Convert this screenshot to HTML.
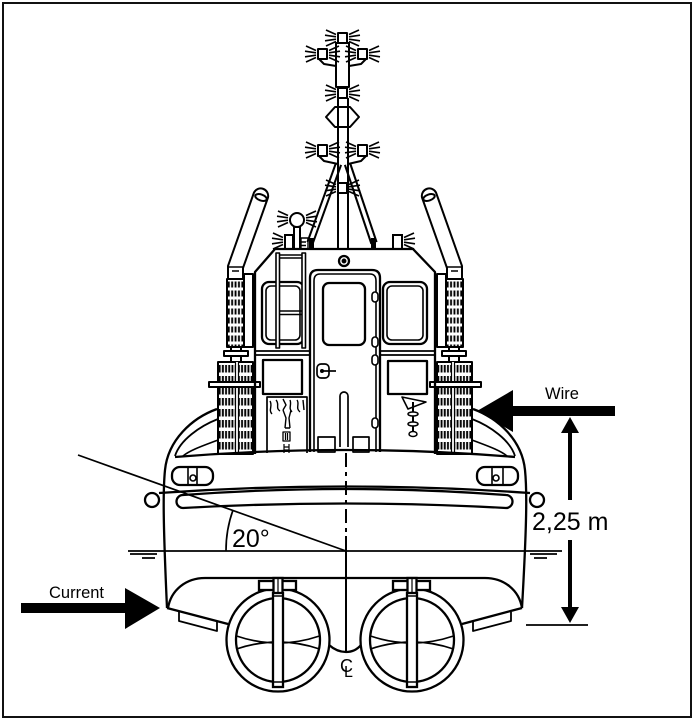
<!DOCTYPE html>
<html><head><meta charset="utf-8"><style>
html,body{margin:0;padding:0;background:#fff;}
svg{display:block;}
text{font-family:"Liberation Sans",sans-serif;fill:#000;}
</style></head><body>
<svg width="694" height="720" viewBox="0 0 694 720" xmlns="http://www.w3.org/2000/svg">
<defs>
<pattern id="gs" patternUnits="userSpaceOnUse" x="227" y="280" width="3.4" height="9"><rect x="0.8" y="1.5" width="1.9" height="6" fill="#000"/></pattern>
<pattern id="gb" patternUnits="userSpaceOnUse" x="218" y="363" width="3.2" height="11"><rect x="0.7" y="2" width="1.9" height="7.5" fill="#000"/></pattern>
<g id="fl" stroke="#000" stroke-width="1.6" fill="none"><path d="M0,-3.5L-10,-8M0,-1.2L-11,-2.8M0,1.2L-11,2.8M0,3.5L-10,8"/></g>
<g id="fr" stroke="#000" stroke-width="1.6" fill="none"><path d="M0,-3.5L10,-8M0,-1.2L11,-2.8M0,1.2L11,2.8M0,3.5L10,8"/></g>
<g id="stack" fill="none" stroke="#000" stroke-width="2" stroke-linejoin="round">
 <path d="M228,278 L228,266 L254,192.5 A7.5,7.5 0 0 1 268,197.5 L243,268 L243,278" fill="#fff"/>
 <ellipse cx="261" cy="197.5" rx="6" ry="3" transform="rotate(19.6 261 197.5)"/>
 <path d="M229,267 L243,267 M232,271 L239,271" stroke-width="1.4"/>
 <rect x="244" y="274" width="9" height="73" fill="#fff"/>
 <rect x="227" y="279" width="17" height="68" fill="url(#gs)"/>
 <rect x="231" y="347" width="10" height="4" fill="#fff"/>
 <rect x="224" y="351" width="24" height="5" fill="#fff"/>
 <rect x="231" y="356" width="10" height="6" fill="#fff"/>
 <rect x="218" y="362" width="35" height="92" fill="url(#gb)"/>
 <rect x="236" y="362" width="2" height="92" fill="#fff" stroke="none"/>
 <path d="M235.5,362 V454 M238.5,362 V454" stroke-width="1.2"/>
 <rect x="209" y="382" width="51" height="5" fill="#fff"/>
</g>
<g id="thr" fill="none" stroke="#000" stroke-width="2.3">
 <circle cx="0" cy="0" r="51.5" fill="#fff"/>
 <circle cx="0" cy="0" r="42"/>
 <path d="M-41.5,-4 Q0,10 41.5,-4 M-41.5,9 Q0,-5 41.5,9" stroke-width="1.7"/>
 <rect x="-19" y="-59" width="37" height="9" fill="#fff"/>
 <rect x="-4.5" y="-62" width="9" height="16" fill="#fff"/>
 <path d="M0,-62 V-47" stroke-width="1.2"/>
 <rect x="-5" y="-47" width="10" height="94" fill="#fff"/>
 <path d="M-6,-44 H6 M-5,42 H5" stroke-width="1.4"/>
</g>
</defs>

<rect x="3" y="3" width="688" height="714" fill="none" stroke="#111" stroke-width="2"/>

<!-- stacks -->
<use href="#stack"/>
<use href="#stack" transform="translate(690,0) scale(-1,1)"/>

<!-- mast -->
<g fill="none" stroke="#000" stroke-width="2" stroke-linejoin="round">
 <line x1="338.5" y1="164" x2="310" y2="243" stroke-width="7.5"/>
 <line x1="338.5" y1="164" x2="310" y2="243" stroke="#fff" stroke-width="3.4"/>
 <line x1="347.5" y1="164" x2="374" y2="243" stroke-width="7.5"/>
 <line x1="347.5" y1="164" x2="374" y2="243" stroke="#fff" stroke-width="3.4"/>
 <rect x="309" y="238" width="5" height="11" fill="#000" stroke="none"/>
 <rect x="371" y="238" width="5" height="11" fill="#000" stroke="none"/>
 <path d="M338,98 V249 M348,98 V249"/>
 <rect x="336" y="43" width="13" height="44" fill="#fff"/>
 <polygon points="326,117 335,107 350,107 359,117 350,127 335,127"/>
 <path d="M319,59 L324,64 L336,66 M366,59 L361,64 L349,66"/>
 <path d="M319,156 L324,161 L338,164 M366,156 L361,161 L348,164"/>
 <rect x="338" y="33" width="9" height="10" fill="#fff"/>
 <rect x="318" y="49" width="9" height="10" fill="#fff"/>
 <rect x="358" y="49" width="9" height="10" fill="#fff"/>
 <rect x="338" y="88" width="9" height="10" fill="#fff"/>
 <rect x="318" y="145" width="9" height="11" fill="#fff"/>
 <rect x="358" y="145" width="9" height="11" fill="#fff"/>
 <rect x="338" y="183" width="9" height="10" fill="#fff"/>
</g>
<use href="#fl" x="336" y="38"/><use href="#fr" x="349" y="38"/>
<use href="#fl" x="316" y="54"/><use href="#fr" x="329" y="54"/>
<use href="#fl" x="356" y="54"/><use href="#fr" x="369" y="54"/>
<use href="#fl" x="336" y="93"/><use href="#fr" x="349" y="93"/>
<use href="#fl" x="316" y="150"/><use href="#fr" x="329" y="150"/>
<use href="#fl" x="356" y="150"/><use href="#fr" x="369" y="150"/>
<use href="#fl" x="336" y="188"/><use href="#fr" x="349" y="188"/>

<!-- roof items -->
<g fill="none" stroke="#000" stroke-width="2">
 <circle cx="297" cy="220" r="7" fill="#fff"/>
 <rect x="294" y="227" width="6" height="22" fill="#fff"/>
 <rect x="285" y="235" width="8" height="14" fill="#fff"/>
 <path d="M301,238 H308 V249 H301 Z M301,242 H306 M301,245.5 H306" stroke-width="1.4"/>
 <rect x="393" y="235" width="9" height="14" fill="#fff"/>
</g>
<use href="#fl" x="288" y="219"/><use href="#fr" x="306" y="219"/>
<use href="#fl" x="283" y="241"/><use href="#fr" x="404" y="241"/>

<!-- wheelhouse -->
<g fill="none" stroke="#000" stroke-width="2.3" stroke-linejoin="round">
 <path d="M255,454 V272 L275,249 H413 L435,272 V454"/>
 <circle cx="344" cy="261" r="5"/>
 <circle cx="344" cy="261" r="1.3" fill="#000"/>
 <rect x="262" y="282" width="42" height="62" rx="7"/>
 <rect x="266" y="286" width="34" height="54" rx="5" stroke-width="1.6"/>
 <rect x="383" y="282" width="44" height="62" rx="7"/>
 <rect x="387" y="286" width="36" height="54" rx="5" stroke-width="1.6"/>
 <path d="M310,452 V278 Q310,270 318,270 H372 Q380,270 380,278 V452"/>
 <path d="M314,452 V281 Q314,274 320,274 H370 Q376,274 376,281 V452" stroke-width="1.6"/>
 <rect x="323" y="283" width="42" height="62" rx="6"/>
 <path d="M255,351 H310 M255,355 H310 M380,351 H435 M380,355 H435" stroke-width="1.7"/>
 <rect x="263" y="360" width="39" height="34"/>
 <rect x="388" y="361" width="39" height="33"/>
 <path d="M267,453 V397 H307 V453" stroke-width="1.7"/>
 <!-- ladder -->
 <rect x="276" y="253" width="3.5" height="95" fill="#fff" stroke-width="1.6"/>
 <rect x="302" y="253" width="3.5" height="95" fill="#fff" stroke-width="1.6"/>
 <path d="M279.5,255 H302 M279.5,258 H302 M279.5,311 H302 M279.5,314.5 H302" stroke-width="1.6"/>
 <!-- hinges -->
 <rect x="372" y="292" width="6" height="10" rx="3" fill="#fff" stroke-width="1.6"/>
 <rect x="372" y="337" width="6" height="10" rx="3" fill="#fff" stroke-width="1.6"/>
 <rect x="372" y="355" width="6" height="10" rx="3" fill="#fff" stroke-width="1.6"/>
 <rect x="372" y="418" width="6" height="10" rx="3" fill="#fff" stroke-width="1.6"/>
 <!-- handle -->
 <rect x="317" y="364" width="12" height="14" rx="4" stroke-width="1.7"/>
 <circle cx="322" cy="371" r="2" fill="#000" stroke="none"/>
 <path d="M322,371 H336" stroke-width="1.7"/>
 <path d="M340,447 V396 A4,4 0 0 1 348,396 V447" stroke-width="1.7"/>
 <rect x="318" y="437" width="17" height="15" fill="#fff" stroke-width="1.7"/>
 <rect x="353" y="437" width="16" height="15" fill="#fff" stroke-width="1.7"/>
 <!-- squiggles -->
 <path d="M270,401 C273,406 268,410 272,414 M276,400 C280,404 275,408 280,411 M283,399 L286,405 L283,410 M290,400 C292,405 288,408 292,412 M297,400 C300,404 295,408 300,412 M303,400 L304,410" stroke-width="1.4"/>
 <path d="M283,410 L286,418 L285,428 M291,410 L289,418 L290,428 M285,428 H290" stroke-width="1.4"/>
 <rect x="283" y="432" width="7" height="9" stroke-width="1.3"/>
 <path d="M285.5,433 V440 M287.5,433 V440 M284,444 V453 M289,444 V453 M284,447 H289 M284,450 H289" stroke-width="1.2"/>
 <!-- flag/pole -->
 <path d="M402,397 L426,402 L408,409 Z" stroke-width="1.6"/>
 <path d="M413,402 V437" stroke-width="2"/>
 <ellipse cx="413" cy="414" rx="5" ry="2" fill="#fff" stroke-width="1.5"/>
 <ellipse cx="413" cy="424" rx="5" ry="2" fill="#fff" stroke-width="1.5"/>
 <ellipse cx="413" cy="434" rx="4" ry="2.5" fill="#fff" stroke-width="1.5"/>
</g>

<!-- hull -->
<g fill="none" stroke="#000" stroke-width="2.3" stroke-linejoin="round">
 <path d="M217,409 C192,418 168,440 165,470 C163,490 163,520 167,608"/>
 <path d="M473,409 C498,418 522,440 525,470 C527,490 527,520 522,608"/>
 <path d="M218,419 C200,426 180,440 175,456" stroke-width="1.8"/>
 <path d="M472,419 C490,426 510,440 515,456" stroke-width="1.8"/>
 <path d="M218,440 C205,445 190,450 183,456 M472,440 C485,445 500,450 507,456" stroke-width="1.6"/>
 <path d="M175,457 Q346,443 515,457"/>
 <rect x="172" y="467" width="41" height="18" rx="8"/>
 <path d="M188,467 V485 M197,468 V484" stroke-width="1.6"/>
 <circle cx="193" cy="478" r="3" stroke-width="1.6"/>
 <rect x="477" y="467" width="41" height="18" rx="8"/>
 <path d="M503,467 V485 M492,468 V484" stroke-width="1.6"/>
 <circle cx="496" cy="478" r="3" stroke-width="1.6"/>
 <circle cx="152" cy="500" r="7" fill="#fff"/>
 <circle cx="537" cy="500" r="7" fill="#fff"/>
 <path d="M159,493 Q346,480 530,493"/>
 <path d="M183,495 Q346,483 506,495 A6.5,6.5 0 0 1 506,508 Q346,499 183,508 A6.5,6.5 0 0 1 183,495 Z"/>
 <path d="M205,578 L485,578"/>
 <path d="M205,578 C186,578 171,590 168,608 M485,578 C504,578 519,590 522,608"/>
 <path d="M167,608 L228,624 M522,608 L462,624"/>
 <path d="M329,645 Q337,652 346,652 Q355,652 361,645"/>
 <path d="M179,612 L179,621 L217,631 L217,622 M511,612 L511,621 L473,631 L473,622" stroke-width="1.8"/>
</g>
<use href="#thr" transform="translate(278,640)"/>
<use href="#thr" transform="translate(412,640)"/>

<!-- centerline -->
<g fill="none" stroke="#000" stroke-width="2">
 <path d="M346,453 V536" stroke-dasharray="14 5 4 5"/>
 <path d="M346,536 V652"/>
</g>
<text x="340" y="672" font-size="18">C</text>
<text x="344" y="677" font-size="16">L</text>

<!-- waterline and angle -->
<g fill="none" stroke="#000" stroke-width="1.7">
 <path d="M128,551 H562"/>
 <path d="M130,554 H157 M142,558 H155 M530,554 H557 M534,558 H547"/>
 <path d="M78,455 L346,551"/>
 <path d="M226,551 A120,120 0 0 1 233,510"/>
</g>
<text x="232" y="547" font-size="25">20°</text>

<!-- current arrow -->
<polygon points="21,603 125,603 125,588 160,608 125,629 125,613 21,613" fill="#000"/>
<text x="49" y="598" font-size="16.5">Current</text>

<!-- wire arrow -->
<polygon points="615,406 513,406 513,390 477,411 513,432 513,416 615,416" fill="#000"/>
<text x="545" y="399" font-size="16.5">Wire</text>

<!-- dimension -->
<g stroke="#000" fill="none">
 <path d="M570,430 V500 M570,540 V610" stroke-width="4"/>
 <path d="M526,625 H588" stroke-width="1.7"/>
</g>
<polygon points="570,417 561,433 579,433" fill="#000"/>
<polygon points="570,623 561,607 579,607" fill="#000"/>
<text x="532" y="530" font-size="25">2,25 m</text>
</svg>
</body></html>
